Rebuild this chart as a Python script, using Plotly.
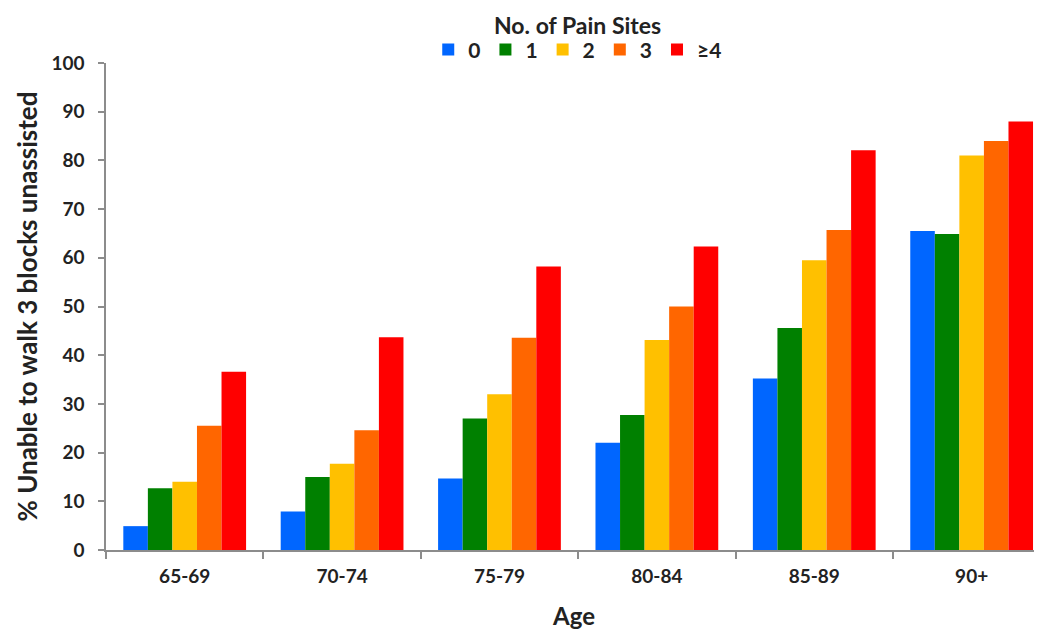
import plotly.graph_objects as go

ages = ["65-69", "70-74", "75-79", "80-84", "85-89", "90+"]
series_names = ["0", "1", "2", "3", "≥4"]
s0 = [4.9, 7.9, 14.7, 22.0, 35.2, 65.5]
s1 = [12.7, 15.0, 27.0, 27.7, 45.6, 64.9]
s2 = [14.0, 17.7, 32.0, 43.1, 59.5, 81.0]
s3 = [25.5, 24.6, 43.6, 50.0, 65.7, 84.0]
s4 = [36.6, 43.7, 58.2, 62.3, 82.1, 88.0]
colors = ["#0066FF", "#008000", "#FFC000", "#FF6600", "#FF0000"]

FONT = "Lato"
TXT = "#222222"
fig = go.Figure()
for name, vals, c in zip(series_names, [s0, s1, s2, s3, s4], colors):
    fig.add_trace(go.Bar(x=ages, y=vals, name="<b>" + name + "</b>",
                         marker=dict(color=c, line=dict(width=0))))

fig.update_layout(
    width=1034, height=627,
    margin=dict(l=98, r=0, t=55, b=85, autoexpand=False),
    paper_bgcolor="white", plot_bgcolor="white",
    barmode="group", bargap=0.22, bargroupgap=0,
    font=dict(family=FONT, color=TXT),
    showlegend=True,
    legend=dict(orientation="h", x=0.504, xanchor="center", y=1.027, yanchor="middle",
                font=dict(family=FONT, size=21, color=TXT),
                traceorder="normal", itemwidth=30, tracegroupgap=0),
    annotations=[dict(text="<b>No. of Pain Sites</b>", x=0.504, xref="paper", y=1.0, yref="paper",
                      yanchor="top", xanchor="center", yshift=54, showarrow=False,
                      font=dict(family=FONT, size=23, color=TXT))],
)
fig.update_xaxes(
    range=[-0.5, 5.447], showline=True, linecolor="#8c8c8c", linewidth=1.5,
    ticks="outside", tickson="boundaries", ticklen=7, tickcolor="#8c8c8c", tickwidth=1.5,
    tickfont=dict(family=FONT, size=19, color=TXT), ticklabelstandoff=8,
    tickprefix="<b>", ticksuffix="</b>",
    title=dict(text="<b>Age</b>", font=dict(family=FONT, size=24, color=TXT), standoff=23),
    showgrid=False,
)
fig.update_yaxes(
    range=[0, 100], dtick=10, showline=True, linecolor="#8c8c8c", linewidth=1.5,
    ticks="outside", ticklen=6, tickcolor="#8c8c8c", tickwidth=1.5,
    tickfont=dict(family=FONT, size=19, color=TXT), ticklabelstandoff=10,
    tickprefix="<b>", ticksuffix="</b>",
    title=dict(text="<b>% Unable to walk 3 blocks unassisted</b>", font=dict(family=FONT, size=26, color=TXT), standoff=6),
    showgrid=False, zeroline=False,
)
fig.write_html("out.html")
